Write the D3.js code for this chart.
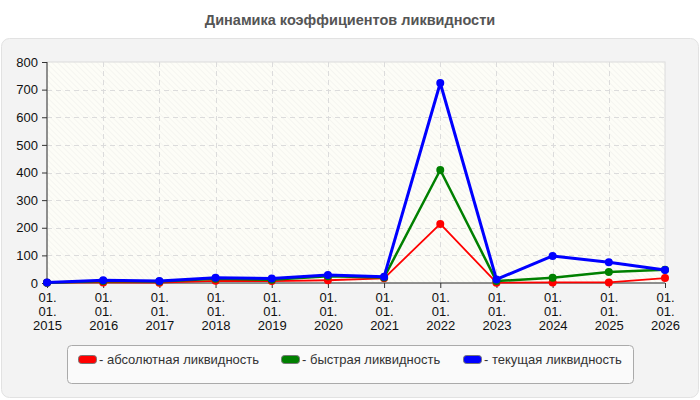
<!DOCTYPE html>
<html>
<head>
<meta charset="utf-8">
<script src="https://cdn.jsdelivr.net/npm/d3@7"></script>
<style>
  body { margin: 0; background: #fff; }
  svg { display: block; font-family: "Liberation Sans", Arial, sans-serif; }
</style>
</head>
<body>
<svg id="chart" width="700" height="400"></svg>
<script>
const years = [2015, 2016, 2017, 2018, 2019, 2020, 2021, 2022, 2023, 2024, 2025, 2026];
const yTicks = [0, 100, 200, 300, 400, 500, 600, 700, 800];

// коэффициенты по годам
const absLiquidity = [1, 2, 1, 8, 7, 10, 17, 214, 1, 2, 2, 18];
const quickLiquidity = [1, 7, 5, 15, 12, 24, 20, 409, 7, 19, 40, 48];
const currentLiquidity = [2, 10, 7, 19, 16, 29, 23, 724, 13, 98, 75, 47];

const seriesNames = ["- абсолютная ликвидность", "- быстрая ликвидность", "- текущая ликвидность"];
const seriesColors = ["#ff0000", "#008000", "#0000ff"];
const seriesWidths = [1.8, 2.5, 3];

const series = [absLiquidity, quickLiquidity, currentLiquidity].map((values, i) => ({
  name: seriesNames[i],
  color: seriesColors[i],
  width: seriesWidths[i],
  values: values.map((v, j) => ({ x: years[j], y: v }))
}));

const svg = d3.select("#chart");
const plot = { left: 47, right: 665, top: 62, bottom: 283 };

svg.append("text")
  .attr("x", 350).attr("y", 25)
  .attr("text-anchor", "middle")
  .style("font-size", "14.5px").style("font-weight", "bold")
  .style("fill", "#555")
  .text("Динамика коэффициентов ликвидности");

// outer panel
svg.append("rect")
  .attr("x", 1.5).attr("y", 38.5).attr("width", 697).attr("height", 359)
  .attr("rx", 8)
  .style("fill", "#f3f3f3").style("stroke", "#e2e2e2");

const defs = svg.append("defs");
const pat = defs.append("pattern")
  .attr("id", "hatch")
  .attr("patternUnits", "userSpaceOnUse")
  .attr("width", 4).attr("height", 4)
  .attr("patternTransform", "rotate(-45)");
pat.append("rect").attr("width", 4).attr("height", 4).style("fill", "#fdfdf7");
pat.append("line")
  .attr("x1", 0).attr("y1", 0).attr("x2", 0).attr("y2", 4)
  .style("stroke", "#ededea").style("stroke-width", 1);

const x = d3.scaleLinear().domain([2015, 2026]).range([plot.left, plot.right]);
const y = d3.scaleLinear().domain([0, 800]).range([plot.bottom, plot.top]);

svg.append("rect")
  .attr("x", plot.left).attr("y", plot.top)
  .attr("width", plot.right - plot.left).attr("height", plot.bottom - plot.top)
  .style("fill", "url(#hatch)")
  .style("stroke", "#dcdcdc");

// grid
const grid = svg.append("g");
grid.selectAll(".hg")
  .data(yTicks.slice(1, -1))
  .join("line")
  .attr("x1", plot.left).attr("x2", plot.right)
  .attr("y1", d => Math.round(y(d)) + 0.5).attr("y2", d => Math.round(y(d)) + 0.5)
  .style("stroke", "#dcdcdc").style("stroke-dasharray", "5,4");
grid.selectAll(".vg")
  .data(years.slice(1, -1))
  .join("line")
  .attr("x1", d => Math.round(x(d)) + 0.5).attr("x2", d => Math.round(x(d)) + 0.5)
  .attr("y1", plot.top).attr("y2", plot.bottom)
  .style("stroke", "#dcdcdc").style("stroke-dasharray", "5,4");

// axes
const yAxis = d3.axisLeft(y).tickValues(yTicks).tickSize(5).tickPadding(4);
const yG = svg.append("g")
  .attr("transform", `translate(${plot.left},0)`)
  .call(yAxis);
yG.select(".domain").attr("d", `M0,${plot.top}V${plot.bottom}`).style("stroke", "#333");
yG.selectAll(".tick line").style("stroke", "#333");
yG.selectAll(".tick text")
  .style("font-size", "13px").style("fill", "#111")
  .style("font-family", "Liberation Sans, Arial, sans-serif");

const xAxis = d3.axisBottom(x).tickValues(years).tickSize(5).tickFormat("");
const xG = svg.append("g")
  .attr("transform", `translate(0,${plot.bottom})`)
  .call(xAxis);
xG.select(".domain").attr("d", `M${plot.left},0H${plot.right}`).style("stroke", "#333");
xG.selectAll(".tick line").style("stroke", "#333");
xG.selectAll(".tick").each(function (d) {
  const t = d3.select(this).append("text")
    .attr("text-anchor", "middle")
    .style("font-size", "13px").style("fill", "#111")
    .style("font-family", "Liberation Sans, Arial, sans-serif");
  ["01.", "01.", String(d)].forEach((s, i) => {
    t.append("tspan").attr("x", 0).attr("y", 19 + i * 14).text(s);
  });
});

// lines
const line = d3.line().x(d => x(d.x)).y(d => y(d.y));
const lines = svg.append("g");
series.forEach(s => {
  lines.append("path")
    .datum(s.values)
    .attr("d", line)
    .style("fill", "none")
    .style("stroke", s.color)
    .style("stroke-width", s.width)
    .style("stroke-linejoin", "round");
  lines.selectAll(null)
    .data(s.values)
    .join("circle")
    .attr("cx", d => x(d.x)).attr("cy", d => y(d.y))
    .attr("r", 4)
    .style("fill", s.color);
});

// legend
const legend = svg.append("g");
legend.append("rect")
  .attr("x", 67.5).attr("y", 345.5).attr("width", 566).attr("height", 38)
  .attr("rx", 4)
  .style("fill", "#fafafa").style("stroke", "#aaa");
const legendX = [78, 281, 463];
series.forEach((s, i) => {
  const g = legend.append("g").attr("transform", `translate(${legendX[i]},355)`);
  g.append("rect")
    .attr("x", 0.5).attr("y", 0.5).attr("width", 18).attr("height", 8)
    .attr("rx", 3)
    .style("fill", s.color).style("stroke", "#777");
  g.append("text")
    .attr("x", 21).attr("y", 9)
    .style("font-size", "13px").style("fill", "#333")
    .text(s.name);
});
</script>
</body>
</html>
